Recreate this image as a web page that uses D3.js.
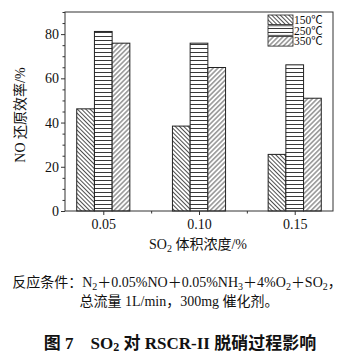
<!DOCTYPE html>
<html><head><meta charset="utf-8">
<script src="https://cdn.jsdelivr.net/npm/d3@7/dist/d3.min.js"></script>
<style>
body{margin:0;background:#fff;}
text{font-family:"Liberation Serif","Noto Sans CJK SC",serif;fill:#111;}
</style></head>
<body><svg id="c" width="360" height="356"></svg>
<script>
const categories = [0.05, 0.10, 0.15];
const categoryLabels = ["0.05", "0.10", "0.15"];
const seriesNames = ["150℃", "250℃", "350℃"];
const s150 = [46.2, 38.4, 25.6];
const s250 = [81.2, 75.9, 66.1];
const s350 = [75.9, 64.9, 51.0];
const yTicks = [0, 20, 40, 60, 80];
const series = [s150, s250, s350];

const svg = d3.select("#c");
const L = 65, R = 333, T = 12, B = 211;
const x = d3.scaleLinear().domain([0.03, 0.17]).range([L, R]);
const y = d3.scaleLinear().domain([0, 90]).range([B, T]);

const defs = svg.append("defs");
function diag(id, angle, gap) {
  const p = defs.append("pattern").attr("id", id).attr("patternUnits", "userSpaceOnUse")
    .attr("width", 10).attr("height", gap).attr("patternTransform", `rotate(${angle})`);
  p.append("rect").attr("width", 10).attr("height", gap).attr("fill", "#fff");
  p.append("line").attr("x1", 0).attr("y1", gap/2).attr("x2", 10).attr("y2", gap/2)
    .attr("stroke", "#222").attr("stroke-width", 0.8);
}
diag("p0", 45, 3.0);
diag("p2", -45, 3.4);
{
  const p = defs.append("pattern").attr("id", "p1").attr("patternUnits", "userSpaceOnUse")
    .attr("width", 10).attr("height", 4);
  p.append("rect").attr("width", 10).attr("height", 4).attr("fill", "#fff");
  p.append("line").attr("x1", 0).attr("y1", 0.5).attr("x2", 10).attr("y2", 0.5)
    .attr("stroke", "#222").attr("stroke-width", 0.9);
}

// bars
const bw = x(0.05 + 0.00925) - x(0.05);
series.forEach((s, si) => {
  svg.append("g").selectAll("rect").data(s).join("rect")
    .attr("x", (d, i) => x(categories[i]) + (si - 1.5) * bw)
    .attr("y", d => y(d))
    .attr("width", bw)
    .attr("height", d => B - y(d))
    .attr("fill", `url(#p${si})`)
    .attr("stroke", "#222").attr("stroke-width", 1);
});

// frame
svg.append("rect").attr("x", L).attr("y", T).attr("width", R - L).attr("height", B - T)
  .attr("fill", "none").attr("stroke", "#333").attr("stroke-width", 1);

// y axis
const yAxis = d3.axisLeft(y).tickValues(yTicks).tickSize(4).tickPadding(2).tickFormat(d3.format("d"));
const gy = svg.append("g").attr("transform", `translate(${L},0)`).call(yAxis);
gy.select(".domain").remove();
gy.selectAll("text").style("font-size", "14px").attr("font-family", null);
const yMinor = d3.range(0, 91, 5).filter(v => v % 20 !== 0);
svg.append("g").attr("transform", `translate(${L},0)`)
  .call(d3.axisLeft(y).tickValues(yMinor).tickSize(2.5).tickFormat(""))
  .select(".domain").remove();

// x axis
const xAxis = d3.axisBottom(x).tickValues(categories).tickSize(4).tickPadding(4)
  .tickFormat((d, i) => categoryLabels[i]);
const gx = svg.append("g").attr("transform", `translate(0,${B})`).call(xAxis);
gx.select(".domain").remove();
gx.selectAll("text").style("font-size", "14px").attr("font-family", null);
svg.append("g").attr("transform", `translate(0,${B})`)
  .call(d3.axisBottom(x).tickValues([0.075, 0.125]).tickSize(2.5).tickFormat(""))
  .select(".domain").remove();
svg.selectAll(".tick line").attr("stroke", "#333");

// axis titles
svg.append("text").attr("transform", "translate(25,115) rotate(-90)")
  .attr("text-anchor", "middle").style("font-size", "14px").text("NO 还原效率/%");
const xt = svg.append("text").attr("x", 198).attr("y", 249).attr("text-anchor", "middle").style("font-size", "14px");
xt.append("tspan").text("SO");
xt.append("tspan").attr("dy", 3).style("font-size", "10px").text("2");
xt.append("tspan").attr("dy", -3).text(" 体积浓度/%");

// legend
const lg = svg.append("g");
seriesNames.forEach((n, i) => {
  const yy = 15 + i * 10.8;
  lg.append("rect").attr("x", 268).attr("y", yy).attr("width", 25).attr("height", 9.5)
    .attr("fill", `url(#p${i})`).attr("stroke", "#222").attr("stroke-width", 0.8);
  lg.append("text").attr("x", 294).attr("y", yy + 8.8).style("font-size", "11.5px").text(n);
});

// notes
const n1 = svg.append("text").attr("x", 177).attr("y", 287).attr("text-anchor", "middle").style("font-size", "14px");
n1.append("tspan").text("反应条件：N");
n1.append("tspan").attr("dy", 3).style("font-size", "10px").text("2");
n1.append("tspan").attr("dy", -3).text("＋0.05%NO＋0.05%NH");
n1.append("tspan").attr("dy", 3).style("font-size", "10px").text("3");
n1.append("tspan").attr("dy", -3).text("＋4%O");
n1.append("tspan").attr("dy", 3).style("font-size", "10px").text("2");
n1.append("tspan").attr("dy", -3).text("＋SO");
n1.append("tspan").attr("dy", 3).style("font-size", "10px").text("2");
n1.append("tspan").attr("dy", -3).text("，");
svg.append("text").attr("x", 179).attr("y", 306).attr("text-anchor", "middle").style("font-size", "14px")
  .text("总流量 1L/min，300mg 催化剂。");
const tt = svg.append("text").attr("x", 180).attr("y", 349).attr("text-anchor", "middle")
  .style("font-size", "17px").style("font-weight", "bold");
tt.append("tspan").text("图 7　SO");
tt.append("tspan").attr("dy", 2).style("font-size", "12px").text("2");
tt.append("tspan").attr("dy", -2).text(" 对 RSCR-II 脱硝过程影响");
</script></body></html>
